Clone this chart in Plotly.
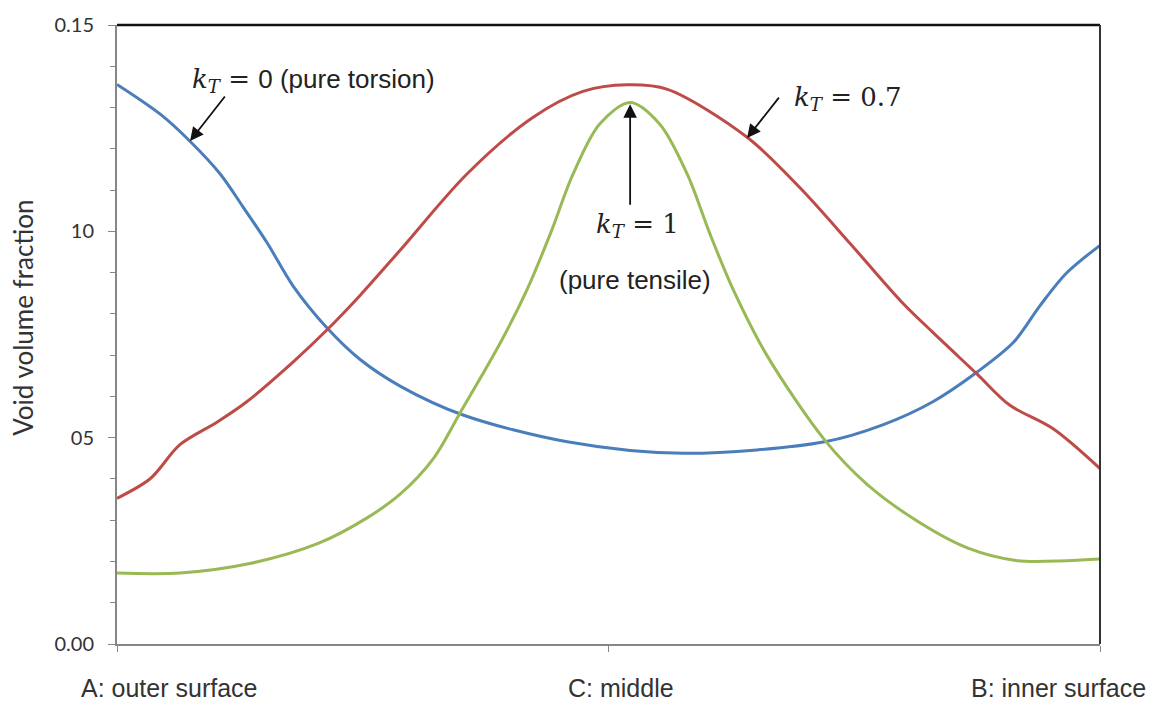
import plotly.graph_objects as go

# Position through the thickness (0 = A outer surface, 0.5 = C middle, 1 = B inner surface)
x_kt0 = [0.000, 0.044, 0.074, 0.105, 0.128, 0.153, 0.179, 0.214, 0.247, 0.288, 0.352,
         0.458, 0.576, 0.720, 0.779, 0.830, 0.875, 0.912, 0.939, 0.966, 1.000]
y_kt0 = [0.1356, 0.1284, 0.1219, 0.1139, 0.1060, 0.0971, 0.0868, 0.0765, 0.0690, 0.0625,
         0.0555, 0.0490, 0.0462, 0.0490, 0.0531, 0.0587, 0.0659, 0.0731, 0.0820, 0.0899,
         0.0966]

x_kt07 = [0.000, 0.034, 0.064, 0.102, 0.132, 0.179, 0.214, 0.247, 0.288, 0.356, 0.423,
          0.474, 0.519, 0.560, 0.641, 0.695, 0.746, 0.797, 0.830, 0.875, 0.908, 0.952,
          1.000]
y_kt07 = [0.0353, 0.0401, 0.0483, 0.0538, 0.0587, 0.0683, 0.0762, 0.0844, 0.0954, 0.1139,
          0.1276, 0.1339, 0.1355, 0.1344, 0.1228, 0.1105, 0.0970, 0.0832, 0.0755, 0.0654,
          0.0579, 0.0522, 0.0425]

x_kt1 = [0.000, 0.064, 0.135, 0.204, 0.254, 0.288, 0.322, 0.349, 0.390, 0.417, 0.441,
         0.464, 0.491, 0.522, 0.552, 0.580, 0.603, 0.627, 0.661, 0.720, 0.763, 0.814,
         0.865, 0.916, 0.966, 1.000]
y_kt1 = [0.0172, 0.0172, 0.0195, 0.0243, 0.0305, 0.0363, 0.0450, 0.0560, 0.0730, 0.0858,
         0.0995, 0.1139, 0.1260, 0.1312, 0.1260, 0.1139, 0.0995, 0.0858, 0.0700, 0.0494,
         0.0387, 0.0298, 0.0233, 0.0202, 0.0202, 0.0206]

x_tick_vals = [0, 0.5, 1]
x_tick_text = ["A: outer surface", "C: middle", "B: inner surface"]
y_tick_vals = [0, 0.05, 0.10, 0.15]
y_tick_text = ["0.00", "05", "10", "0.15"]

fig = go.Figure()
fig.add_trace(go.Scatter(x=x_kt0, y=y_kt0, mode="lines", name="kT=0",
                         line=dict(color="#4A7EBB", width=3, shape="spline", smoothing=0.9)))
fig.add_trace(go.Scatter(x=x_kt07, y=y_kt07, mode="lines", name="kT=0.7",
                         line=dict(color="#BE4B48", width=3, shape="spline", smoothing=0.9)))
fig.add_trace(go.Scatter(x=x_kt1, y=y_kt1, mode="lines", name="kT=1",
                         line=dict(color="#98B954", width=3, shape="spline", smoothing=0.9)))

MATH = "font-family:'DejaVu Serif';font-style:italic"
SERIF = "font-family:'DejaVu Serif'"
SANS = "font-family:'Liberation Sans'"

def kt(rest_html):
    return (f"<span style=\"{MATH}\">k</span><sub><span style=\"{MATH}\">T</span></sub>"
            + rest_html)

annotations = [
    dict(x=0.0743, y=0.1366, xref="x", yref="y", xanchor="left", yanchor="middle",
         showarrow=False, font=dict(size=26, color="#222"),
         text=kt(f"<span style=\"{SERIF}\"> = </span><span style=\"{SANS}\">0 (pure torsion)</span>")),
    dict(x=0.687, y=0.1322, xref="x", yref="y", xanchor="left", yanchor="middle",
         showarrow=False, font=dict(size=26, color="#222"),
         text=kt(f"<span style=\"{SERIF}\"> = 0.7</span>")),
    dict(x=0.529, y=0.1014, xref="x", yref="y", xanchor="center", yanchor="middle",
         showarrow=False, font=dict(size=26, color="#222"),
         text=kt(f"<span style=\"{SERIF}\"> = 1</span>")),
    dict(x=0.527, y=0.0882, xref="x", yref="y", xanchor="center", yanchor="middle",
         showarrow=False, font=dict(size=26, color="#222", family="Liberation Sans"),
         text="(pure tensile)"),
    # arrows
    dict(x=0.0743, y=0.1219, xref="x", yref="y", ax=36, ay=-46, text="", showarrow=True,
         arrowhead=2, arrowsize=1.5, arrowwidth=1.8, arrowcolor="#111"),
    dict(x=0.641, y=0.1226, xref="x", yref="y", ax=33, ay=-42, text="", showarrow=True,
         arrowhead=2, arrowsize=1.5, arrowwidth=1.8, arrowcolor="#111"),
    dict(x=0.522, y=0.1308, xref="x", yref="y", ax=0, ay=102, text="", showarrow=True,
         arrowhead=2, arrowsize=1.5, arrowwidth=1.8, arrowcolor="#111"),
    # y axis title
    dict(x=-0.0956, y=0.527, xref="paper", yref="paper", xanchor="center", yanchor="middle",
         showarrow=False, textangle=-90, text="Void volume fraction",
         font=dict(size=26, family="Lato", color="#333")),
]

# x tick labels as annotations (shifted inward as in the original)
x_label_shift = [52, 12, -42]
for v, t, s in zip(x_tick_vals, x_tick_text, x_label_shift):
    annotations.append(dict(x=v, y=0, xref="x", yref="paper", yanchor="middle",
                            xanchor="center", xshift=s, yshift=-44, showarrow=False,
                            text=t, font=dict(size=25, family="Liberation Sans", color="#333")))

fig.update_layout(
    width=1151, height=702,
    margin=dict(l=117, r=51, t=20, b=58),
    paper_bgcolor="white", plot_bgcolor="white",
    showlegend=False,
    annotations=annotations,
    xaxis=dict(range=[0, 1], showgrid=False, zeroline=False, showline=True,
               linecolor="#868686", linewidth=2, tickvals=x_tick_vals, ticktext=x_tick_text,
               showticklabels=False, ticks="outside", ticklen=6, tickcolor="#868686",
               tickwidth=1),
    yaxis=dict(range=[0, 0.15], showgrid=False, zeroline=False, showline=True,
               linecolor="#868686", linewidth=2, tickvals=y_tick_vals, ticktext=y_tick_text,
               ticks="outside", ticklen=7, tickcolor="#868686", tickwidth=1,
               ticklabelstandoff=10,
               tickfont=dict(size=20, family="Lato", color="#333"),
               minor=dict(dtick=0.01, ticks="outside", ticklen=5, tickcolor="#868686")),
    shapes=[
        dict(type="line", xref="paper", yref="paper", x0=0, x1=1, y0=1, y1=1,
             line=dict(color="#111", width=2.5)),
        dict(type="line", xref="paper", yref="paper", x0=1, x1=1, y0=0, y1=1,
             line=dict(color="#333", width=2)),
    ],
)

fig.write_html("out.html", config={"displayModeBar": False},
               post_script="document.body.style.margin='0px';")
